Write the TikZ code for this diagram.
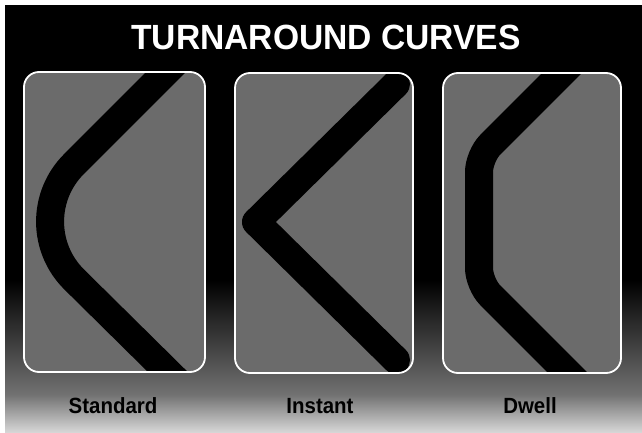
\documentclass[tikz,border=0pt]{standalone}
\usepackage{graphicx}
\usepackage{fontspec}
\setmainfont{Liberation Sans}
\definecolor{panelgray}{gray}{0.42}
\begin{document}
\begin{tikzpicture}[x=1pt,y=-1pt,
  panelfill/.style={fill=panelgray, rounded corners=15pt},
  paneledge/.style={draw=white, line width=1.8pt, rounded corners=15pt},
  band/.style={draw=black, line width=28pt},
  titletext/.style={text=white, font=\bfseries\fontsize{35}{40}\selectfont, inner sep=0pt},
  labeltext/.style={text=black, font=\bfseries\fontsize{22}{26}\selectfont, inner sep=0pt}]
\useasboundingbox (0,0) rectangle (642,433);
% background
\fill[white] (0,0) rectangle (642,433);
\fill[black] (5,5) rectangle (642,282);
\shade[top color=black, bottom color=black!55] (5,280) rectangle (642,396);
\shade[top color=black!55, bottom color=black!15] (5,395) rectangle (642,433);
% title
\node[titletext, anchor=base] (title) at (326,50) {\scalebox{0.96}[1]{TURNAROUND CURVES}};
% panel 1: Standard
\fill[panelfill] (24,72) rectangle (205,372);
\begin{scope}
  \clip[rounded corners=15pt] (24,72) rectangle (205,372);
  \draw[band, rounded corners=82pt] (176,62) -- (16,222) -- (178,382);
\end{scope}
\draw[paneledge] (24,72) rectangle (205,372);
% panel 2: Instant
\fill[panelfill] (235,73) rectangle (413,373);
\draw[band, line cap=round, line join=round] (396,84) -- (256,222) -- (396,360);
\draw[paneledge] (235,73) rectangle (413,373);
% panel 3: Dwell
\fill[panelfill] (443,73) rectangle (621,373);
\begin{scope}
  \clip[rounded corners=15pt] (443,73) rectangle (621,373);
  \draw[band, rounded corners=16pt] (572,63) -- (479,156) -- (479,284) -- (577,382);
\end{scope}
\draw[paneledge] (443,73) rectangle (621,373);
% labels
\node[labeltext, anchor=base] (lstd) at (113,413) {\scalebox{0.93}[1]{Standard}};
\node[labeltext, anchor=base] (linst) at (320,413) {\scalebox{0.93}[1]{Instant}};
\node[labeltext, anchor=base] (ldwell) at (530,413) {\scalebox{0.93}[1]{Dwell}};
\end{tikzpicture}
\end{document}
